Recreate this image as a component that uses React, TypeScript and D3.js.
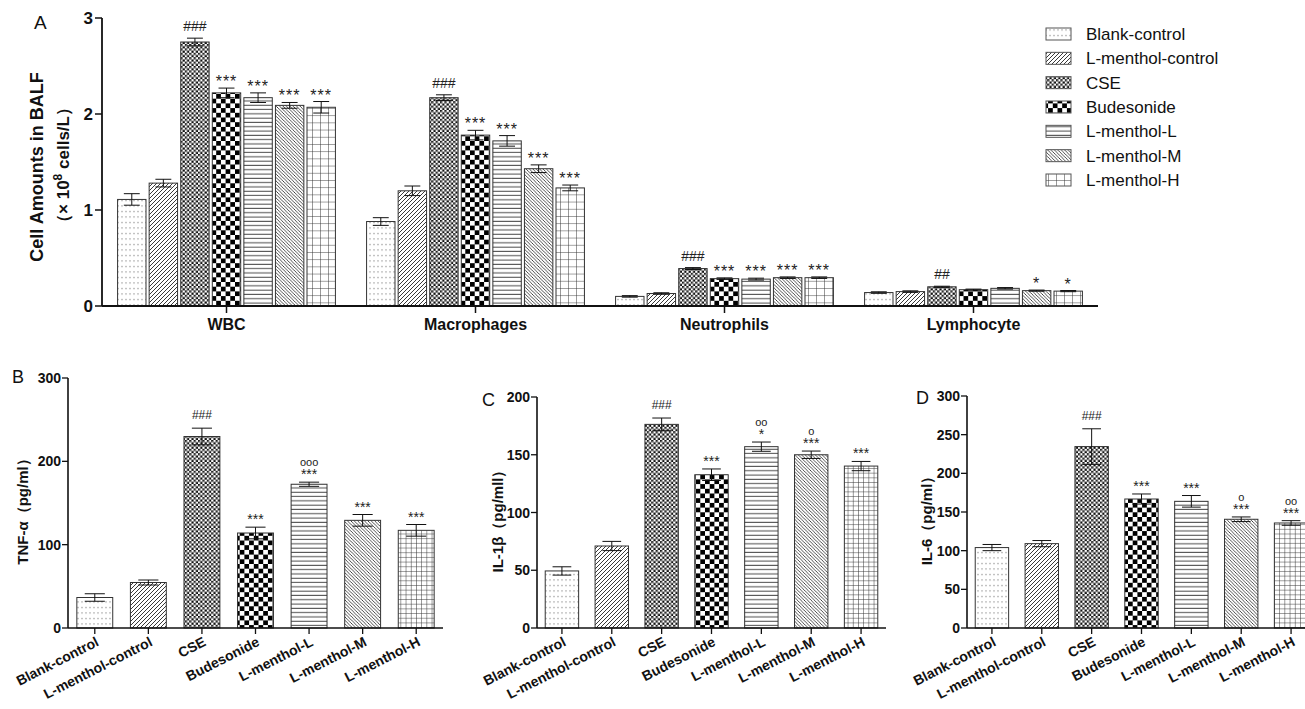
import React from "react";
import * as d3 from "d3";

const groups = ["Blank-control", "L-menthol-control", "CSE", "Budesonide", "L-menthol-L", "L-menthol-M", "L-menthol-H"];
const cellTypes = ["WBC", "Macrophages", "Neutrophils", "Lymphocyte"];

// Panel A values (x 10^8 cells/L), per cell type, per group
const wbcVals = [1.11, 1.28, 2.75, 2.22, 2.17, 2.09, 2.07];
const wbcErr = [0.06, 0.04, 0.04, 0.05, 0.05, 0.03, 0.06];
const wbcSig = ["", "", "###", "***", "***", "***", "***"];
const macVals = [0.88, 1.2, 2.17, 1.78, 1.72, 1.43, 1.23];
const macErr = [0.04, 0.05, 0.03, 0.05, 0.055, 0.04, 0.03];
const macSig = ["", "", "###", "***", "***", "***", "***"];
const neuVals = [0.1, 0.13, 0.39, 0.285, 0.28, 0.295, 0.295];
const neuErr = [0.008, 0.008, 0.01, 0.008, 0.01, 0.008, 0.008];
const neuSig = ["", "", "###", "***", "***", "***", "***"];
const lymVals = [0.14, 0.15, 0.2, 0.17, 0.184, 0.16, 0.155];
const lymErr = [0.008, 0.008, 0.006, 0.006, 0.008, 0.006, 0.006];
const lymSig = ["", "", "##", "", "", "*", "*"];
const aTicks = [0, 1, 2, 3];

// Panel B TNF-α
const tnfVals = [36.6, 54.6, 229.8, 114, 172.5, 129.2, 117.2];
const tnfErr = [4.5, 3, 10, 7, 2.5, 7, 7];
const tnfSig = ["", "", "###", "***", "***", "***", "***"];
const tnfSig2 = ["", "", "", "", "ooo", "", ""];
const tnfTicks = [0, 100, 200, 300];

// Panel C IL-1β
const il1Vals = [49.4, 71, 176.3, 132.7, 157, 150, 140.2];
const il1Err = [3.6, 4, 5.5, 5, 4, 3.2, 4];
const il1Sig = ["", "", "###", "***", "*", "***", "***"];
const il1Sig2 = ["", "", "", "", "oo", "o", ""];
const il1Ticks = [0, 50, 100, 150, 200];

// Panel D IL-6
const il6Vals = [104, 109.1, 234.6, 166.8, 163.8, 140.6, 135.8];
const il6Err = [4, 4, 23, 6.5, 7.5, 3, 3];
const il6Sig = ["", "", "###", "***", "***", "***", "***"];
const il6Sig2 = ["", "", "", "", "", "o", "oo"];
const il6Ticks = [0, 50, 100, 150, 200, 250, 300];

const FONT = "Arial, 'Liberation Sans', sans-serif";
const patKeys = ["dots", "diag", "fine", "check", "hline", "back", "grid"];

function Patterns({ p, grid }: { p: string; grid: number }) {
  const ink = "#222";
  return (
    <>
      <pattern id={`${p}dots`} patternUnits="userSpaceOnUse" width={4} height={5.5}>
        <rect width={4} height={5.5} fill="#fff" />
        <rect x={1.5} y={2} width={1} height={1} fill="#555" />
      </pattern>
      <pattern id={`${p}diag`} patternUnits="userSpaceOnUse" width={4} height={4}>
        <rect width={4} height={4} fill="#fff" />
        <path d="M-1,1 l2,-2 M0,4 l4,-4 M3,5 l2,-2" stroke={ink} strokeWidth={0.9} />
      </pattern>
      <pattern id={`${p}fine`} patternUnits="userSpaceOnUse" width={4.4} height={4.4}>
        <rect width={4.4} height={4.4} fill="#fff" />
        <rect x={0} y={0} width={2.2} height={2.2} fill="#111" />
        <rect x={2.2} y={2.2} width={2.2} height={2.2} fill="#111" />
        <circle cx={1.1} cy={1.1} r={0.5} fill="#888" />
      </pattern>
      <pattern id={`${p}check`} patternUnits="userSpaceOnUse" width={9.4} height={9.4}>
        <rect width={9.4} height={9.4} fill="#fff" />
        <rect x={0} y={0} width={4.7} height={4.7} fill="#000" />
        <rect x={4.7} y={4.7} width={4.7} height={4.7} fill="#000" />
      </pattern>
      <pattern id={`${p}hline`} patternUnits="userSpaceOnUse" width={8} height={4.3}>
        <rect width={8} height={4.3} fill="#fff" />
        <line x1={0} x2={8} y1={2} y2={2} stroke="#333" strokeWidth={0.9} />
      </pattern>
      <pattern id={`${p}back`} patternUnits="userSpaceOnUse" width={3.4} height={3.4}>
        <rect width={3.4} height={3.4} fill="#fff" />
        <path d="M-1,2.4 l2,2 M0,0 l3.4,3.4 M2.4,-1 l2,2" stroke={ink} strokeWidth={0.8} />
      </pattern>
      <pattern id={`${p}grid`} patternUnits="userSpaceOnUse" width={grid} height={grid * 0.9}>
        <rect width={grid} height={grid * 0.9} fill="#fff" />
        <path d={`M0,0 H${grid} M0,0 V${grid * 0.9}`} stroke="#333" strokeWidth={1} fill="none" />
      </pattern>
    </>
  );
}

function Bar({ x, w, y0, yv, ye1, ye2, fill }: any) {
  const cx = x + w / 2;
  const cap = w * 0.28;
  return (
    <g>
      <rect x={x} y={yv} width={w} height={y0 - yv} fill={fill} stroke="#333" strokeWidth={1} />
      <line x1={cx} x2={cx} y1={ye1} y2={ye2} stroke="#111" strokeWidth={1} />
      <line x1={cx - cap} x2={cx + cap} y1={ye1} y2={ye1} stroke="#111" strokeWidth={1} />
      <line x1={cx - cap} x2={cx + cap} y1={ye2} y2={ye2} stroke="#111" strokeWidth={1} />
    </g>
  );
}

function PanelA() {
  const y = d3.scaleLinear().domain([0, 3]).range([306, 18]);
  const x = d3.scaleBand<string>().domain(cellTypes).range([102, 1098]);
  const xi = d3.scaleBand<string>().domain(groups).range([-110.5, 110.5]).paddingInner(0.1).paddingOuter(0.05);
  const vals = [wbcVals, macVals, neuVals, lymVals];
  const errs = [wbcErr, macErr, neuErr, lymErr];
  const sigs = [wbcSig, macSig, neuSig, lymSig];
  return (
    <g fontFamily={FONT}>
      <text x={34} y={29} fontSize={19} fill="#111">A</text>
      {cellTypes.map((c, ci) => {
        const cx = (x(c) as number) + x.bandwidth() / 2;
        return (
          <g key={c}>
            {groups.map((g, gi) => {
              const bx = cx + (xi(g) as number);
              const v = vals[ci][gi];
              const e = errs[ci][gi];
              const s = sigs[ci][gi];
              return (
                <g key={g}>
                  <Bar x={bx} w={xi.bandwidth()} y0={y(0)} yv={y(v)} ye1={y(v + e)} ye2={y(v - e)} fill={`url(#a${patKeys[gi]})`} />
                  {s && (
                    <text x={bx + xi.bandwidth() / 2} y={y(v + e) - (s.startsWith("#") ? 7 : 1)} fontSize={s.startsWith("#") ? 14 : 16} textAnchor="middle" fill="#222" letterSpacing={s.startsWith("*") ? 1 : 0}>
                      {s}
                    </text>
                  )}
                </g>
              );
            })}
            <line x1={cx} x2={cx} y1={306} y2={313} stroke="#111" strokeWidth={1.5} />
            <text x={cx} y={330} fontSize={16} fontWeight="bold" textAnchor="middle" fill="#111">{c}</text>
          </g>
        );
      })}
      <line x1={102} x2={1098} y1={306} y2={306} stroke="#111" strokeWidth={1.8} />
      <line x1={102} x2={102} y1={306} y2={18} stroke="#111" strokeWidth={1.8} />
      {aTicks.map((t) => (
        <g key={t}>
          <line x1={95} x2={102} y1={y(t)} y2={y(t)} stroke="#111" strokeWidth={1.5} />
          <text x={93} y={y(t) + 6} fontSize={17} fontWeight="bold" textAnchor="end" fill="#111">{t}</text>
        </g>
      ))}
      <text transform="translate(43,167) rotate(-90)" fontSize={18} fontWeight="bold" textAnchor="middle" fill="#111">Cell Amounts in BALF</text>
      <text transform="translate(69,165) rotate(-90)" fontSize={17} fontWeight="bold" textAnchor="middle" fill="#111">
        （× 10<tspan dy={-7} fontSize={12}>8</tspan><tspan dy={7}> cells/L）</tspan>
      </text>
    </g>
  );
}

function Legend() {
  const ys = d3.scaleLinear().domain([0, groups.length - 1]).range([34, 180]);
  return (
    <g fontFamily={FONT}>
      {groups.map((g, i) => (
        <g key={g}>
          <rect x={1046} y={ys(i) - 6} width={25} height={12} fill={`url(#a${patKeys[i]})`} stroke="#555" strokeWidth={1} />
          <text x={1086} y={ys(i) + 6} fontSize={17} fill="#111">{g}</text>
        </g>
      ))}
    </g>
  );
}

function SmallPanel({ p, x0, x1, y0, yTop, max, ticks, vals, errs, sig1, sig2, label, letter, lx, ly, ylx }: any) {
  const y = d3.scaleLinear().domain([0, max]).range([y0, yTop]);
  const x = d3.scaleBand<string>().domain(groups).range([x0, x1]).paddingInner(0.33).paddingOuter(0.165);
  const w = x.bandwidth();
  return (
    <g fontFamily={FONT}>
      <text x={lx} y={ly} fontSize={18} fill="#111">{letter}</text>
      {groups.map((g, i) => {
        const bx = x(g) as number;
        const v = vals[i];
        const e = errs[i];
        const top = y(v + e);
        const s1 = sig1[i];
        const s2 = sig2[i];
        const s1y = s1.startsWith("#") ? top - 9 : top - 3;
        return (
          <g key={g}>
            <Bar x={bx} w={w} y0={y0} yv={y(v)} ye1={top} ye2={y(v - e)} fill={`url(#${p}${patKeys[i]})`} />
            {s1 && (
              <text x={bx + w / 2} y={s1y} fontSize={s1.startsWith("#") ? 12 : 14} textAnchor="middle" fill="#222">{s1}</text>
            )}
            {s2 && (
              <text x={bx + w / 2} y={s1y - 13} fontSize={11} textAnchor="middle" fill="#222">{s2}</text>
            )}
            <line x1={bx + w / 2} x2={bx + w / 2} y1={y0} y2={y0 + 6} stroke="#111" strokeWidth={1.3} />
            <text transform={`translate(${bx + w / 2 + 5},${y0 + 17}) rotate(-27)`} fontSize={14} fontWeight="bold" textAnchor="end" fill="#111">{g}</text>
          </g>
        );
      })}
      <line x1={x0} x2={x1} y1={y0} y2={y0} stroke="#111" strokeWidth={1.6} />
      <line x1={x0} x2={x0} y1={y0} y2={yTop} stroke="#111" strokeWidth={1.6} />
      {ticks.map((t: number) => (
        <g key={t}>
          <line x1={x0 - 6} x2={x0} y1={y(t)} y2={y(t)} stroke="#111" strokeWidth={1.3} />
          <text x={x0 - 7} y={y(t) + 5} fontSize={14} fontWeight="bold" textAnchor="end" fill="#111">{t}</text>
        </g>
      ))}
      <text transform={`translate(${ylx},${(y0 + yTop) / 2 + 5}) rotate(-90)`} fontSize={15} fontWeight="bold" textAnchor="middle" fill="#111">{label}</text>
    </g>
  );
}

export default function App() {
  return (
    <div style={{ position: "absolute", left: 0, top: 0 }}>
      <svg width={1305} height={709} viewBox="0 0 1305 709" style={{ display: "block", background: "#fff" }}>
        <defs>
          <Patterns p="a" grid={8} />
          <Patterns p="s" grid={5.2} />
        </defs>
        <PanelA />
        <Legend />
        <SmallPanel p="s" x0={68} x1={443} y0={628} yTop={378} max={300} ticks={tnfTicks} vals={tnfVals} errs={tnfErr} sig1={tnfSig} sig2={tnfSig2} label="TNF-α（pg/ml）" letter="B" lx={12} ly={383} ylx={28} />
        <SmallPanel p="s" x0={537} x1={886} y0={628} yTop={397} max={200} ticks={il1Ticks} vals={il1Vals} errs={il1Err} sig1={il1Sig} sig2={il1Sig2} label="IL-1β（pg/mll）" letter="C" lx={482} ly={406} ylx={503} />
        <SmallPanel p="s" x0={967} x1={1316} y0={628} yTop={396} max={300} ticks={il6Ticks} vals={il6Vals} errs={il6Err} sig1={il6Sig} sig2={il6Sig2} label="IL-6（pg/ml）" letter="D" lx={916} ly={404} ylx={932} />
      </svg>
    </div>
  );
}
